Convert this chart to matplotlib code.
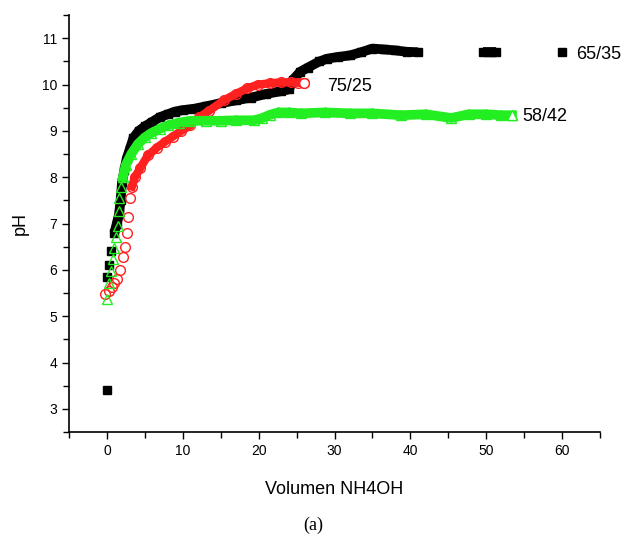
import numpy as np
import matplotlib.pyplot as plt
from matplotlib.ticker import MultipleLocator

# 65/35 series (black squares), split where the curve has gaps
x_6535 = [0, 0, 0.3, 0.6, 1.0, 1.3, 1.6, 1.8, 2.0, 2.3, 2.6, 3.0, 3.5, 4.2, 5.0, 6.0, 7.0, 8.0, 9.0,
          10.0, 11.5, 13.0, 15.0, 17.0, 19.0, 21.0, 23.0, 24.0, 24.5, 25.5, 26.5, 28.0, 29.0,
          30.5, 32.0, 33.5, 35.0, 36.5, 38.0, 39.5, 41.0]
y_6535 = [3.41, 5.85, 6.1, 6.4, 6.8, 7.0, 7.2, 7.5, 7.9, 8.15, 8.4, 8.6, 8.85, 9.0, 9.1, 9.2, 9.3, 9.36, 9.42,
          9.45, 9.48, 9.53, 9.6, 9.66, 9.72, 9.8, 9.86, 9.9, 10.1, 10.28, 10.37, 10.5, 10.56,
          10.6, 10.63, 10.7, 10.78, 10.76, 10.74, 10.71, 10.7]
x_6535_b = [49.6, 50.2, 50.8, 51.3]
y_6535_b = [10.7, 10.7, 10.7, 10.7]
x_6535_c = [60.0]
y_6535_c = [10.7]

# 75/25 series (red open circles)
x_7525 = [-0.2, 0.3, 0.7, 1.0, 1.3, 1.7, 2.1, 2.4, 2.6, 2.8, 3.0, 3.3, 3.7, 4.4, 5.4, 6.6, 7.6, 8.7,
          9.8, 11.0, 12.2, 13.5, 15.5, 17.0, 18.5, 19.9, 21.5, 23.0, 24.3, 25.2, 26.0]
y_7525 = [5.49, 5.55, 5.62, 5.72, 5.8, 6.0, 6.28, 6.5, 6.8, 7.15, 7.55, 7.8, 8.0, 8.2, 8.47, 8.64, 8.76, 8.88,
          9.0, 9.12, 9.3, 9.44, 9.67, 9.8, 9.92, 10.0, 10.03, 10.05, 10.05, 10.04, 10.04]

# 58/42 series (green open triangles)
x_5842 = [0, 0.3, 0.5, 0.8, 1.0, 1.2, 1.4, 1.6, 1.6, 1.8, 2.1, 2.5, 3.2, 4.1, 5.0, 5.8, 7.0, 8.0, 9.5,
          11.0, 13.0, 15.0, 17.0, 19.4, 20.5, 21.5, 22.6, 24.0, 25.6, 28.7, 32.0, 35.0, 38.8,
          42.0, 45.4, 47.7, 50.0, 52.0, 53.4]
y_5842 = [5.37, 5.72, 5.98, 6.24, 6.48, 6.7, 6.95, 7.28, 7.56, 7.78, 8.0, 8.27, 8.5, 8.72, 8.86, 8.95, 9.05, 9.12, 9.18,
          9.22, 9.22, 9.22, 9.23, 9.23, 9.28, 9.35, 9.4, 9.4, 9.38, 9.4, 9.38, 9.38, 9.34,
          9.36, 9.28, 9.36, 9.36, 9.34, 9.34]

labels = ["65/35", "75/25", "58/42"]
label_x = [61.8, 29.0, 54.8]
label_y = [10.65, 9.95, 9.32]

plt.rcParams['font.family'] = ['Liberation Sans', 'DejaVu Sans']

fig = plt.figure(figsize=(6.27, 5.42), dpi=100)
ax = fig.add_axes([0.110, 0.203, 0.847, 0.769])

green = '#22ee22'
red = '#ff2020'

# thick bands where the measured points overlap densely
n = 4
ax.plot(x_6535[n:], y_6535[n:], color='black', lw=7, solid_capstyle='butt', zorder=2)
ax.plot(x_6535_b, y_6535_b, color='black', lw=7, solid_capstyle='butt', zorder=2)
ax.plot(x_7525[11:], y_7525[11:], color=red, lw=6, zorder=3)
ax.plot(x_5842[10:], y_5842[10:], color=green, lw=7, zorder=4)

ax.plot(x_6535, y_6535, 's', color='black', ms=6, zorder=2)
ax.plot(x_6535_b, y_6535_b, 's', color='black', ms=6, zorder=2)
ax.plot(x_6535_c, y_6535_c, 's', color='black', ms=6, zorder=2)
ax.plot(x_7525, y_7525, 'o', mfc='none', mec=red, mew=1, ms=7, zorder=3)
ax.plot(x_7525[-1:], y_7525[-1:], 'o', mfc='white', mec=red, mew=1, ms=7, zorder=5)
ax.plot(x_5842, y_5842, '^', mfc='none', mec=green, mew=1, ms=7, zorder=4)
ax.plot(x_5842[-1:], y_5842[-1:], '^', mfc='white', mec=green, mew=1, ms=7, zorder=5)

for t, tx, ty in zip(labels, label_x, label_y):
    ax.text(tx, ty, t, fontsize=13, va='center', ha='left')

ax.set_xlim(-5, 65)
ax.set_ylim(2.5, 11.5)
ax.xaxis.set_major_locator(MultipleLocator(10))
ax.xaxis.set_minor_locator(MultipleLocator(5))
ax.yaxis.set_major_locator(MultipleLocator(1))
ax.yaxis.set_minor_locator(MultipleLocator(0.5))
ax.set_yticks(range(3, 12))
ax.tick_params(which='both', direction='out', width=1, labelsize=10)
ax.tick_params(which='major', length=5)
ax.tick_params(which='minor', length=4)
for s in ['top', 'right']:
    ax.spines[s].set_visible(False)
for s in ['left', 'bottom']:
    ax.spines[s].set_linewidth(1.2)

ax.set_xlabel("Volumen NH4OH", fontsize=13, labelpad=17)
ax.set_ylabel("pH", fontsize=13, labelpad=9)

fig.text(0.5, 0.022, "(a)", fontsize=13, ha='center', family='Liberation Serif')

fig.savefig("out.png", dpi=100)
